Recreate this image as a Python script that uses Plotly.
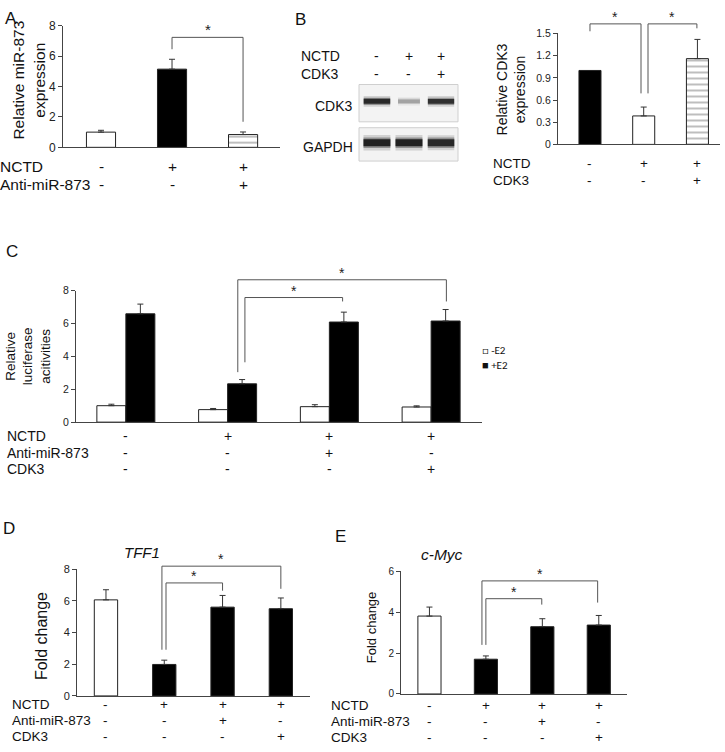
import plotly.graph_objects as go

W, H = 725, 752
FONT = "Liberation Sans, Arial, sans-serif"

# ---------------- data ----------------
A_vals = [1.0, 5.14, 0.84]
A_err = [0.12, 0.65, 0.17]
A_fill = ["white", "black", "dash"]
A_rows = {"NCTD": ["-", "+", "+"], "Anti-miR-873": ["-", "-", "+"]}
A_sig = [(1.0, 2.0, 6.45, 7.23, 1.68)]

B_cdk3_band = [0.95, 0.35, 0.92]
B_gapdh_band = [1.0, 1.0, 0.95]
B_vals = [1.0, 0.385, 1.16]
B_err = [0.0, 0.12, 0.26]
B_fill = ["black", "white", "dash"]
B_rows = {"NCTD": ["-", "+", "+"], "CDK3": ["-", "-", "+"]}
B_sig = [(0.0, 0.95, 1.53, 1.63, 0.69), (1.08, 1.99, 0.69, 1.63, 1.57)]

C_minus = [1.0, 0.76, 0.94, 0.92]
C_minus_err = [0.09, 0.07, 0.12, 0.07]
C_plus = [6.59, 2.33, 6.09, 6.15]
C_plus_err = [0.59, 0.26, 0.60, 0.70]
C_rows = {"NCTD": ["-", "+", "+", "+"],
          "Anti-miR-873": ["-", "-", "+", "-"],
          "CDK3": ["-", "-", "-", "+"]}
C_sig = [(1.17, 2.13, 3.64, 7.58, 7.34), (1.10, 3.15, 3.04, 8.66, 7.34)]

D_vals = [6.07, 1.99, 5.61, 5.51]
D_err = [0.64, 0.27, 0.74, 0.68]
D_fill = ["white", "black", "black", "black"]
D_sig = [(1.03, 2.0, 2.92, 7.14, 6.65), (0.96, 3.0, 2.92, 8.2, 6.77)]

E_vals = [3.81, 1.70, 3.29, 3.37]
E_err = [0.44, 0.16, 0.39, 0.47]
E_fill = ["white", "black", "black", "black"]
E_sig = [(1.0, 1.99, 2.4, 4.66, 4.37), (0.93, 2.98, 2.4, 5.53, 4.47)]

DE_rows = C_rows


def fx(px):
    return px / W


def fy(py):
    return 1 - py / H


fig = go.Figure()
layout = {}
annotations = []
shapes = []
axis_counter = [0]

AX_COL = "#444444"


def new_axes():
    axis_counter[0] += 1
    n = axis_counter[0]
    return ("x" if n == 1 else f"x{n}"), ("y" if n == 1 else f"y{n}")


def lk(ref):
    return ref.replace("x", "xaxis").replace("y", "yaxis")


def panel(xpx, ypx, xrange, ymax, dtick, tickfont, tickformat=None):
    """Create main bar axes and a bracket overlay axis sharing the same scale."""
    xr, yr = new_axes()
    layout[lk(xr)] = dict(domain=[fx(xpx[0]), fx(xpx[1])], range=xrange, anchor=yr,
                          showline=True, linecolor=AX_COL, linewidth=1, ticks="",
                          showticklabels=False, showgrid=False, zeroline=False,
                          fixedrange=True)
    layout[lk(yr)] = dict(domain=[fy(ypx[1]), fy(ypx[0])], range=[0, ymax], anchor=xr,
                          showline=True, linecolor=AX_COL, linewidth=1, ticks="outside",
                          ticklen=4, tickcolor=AX_COL, dtick=dtick, tick0=0,
                          tickfont=dict(size=tickfont, color="#222", family=FONT),
                          showgrid=False, zeroline=False, fixedrange=True,
                          tickformat=tickformat)
    # bracket axis: extend domain upward, same px-per-unit
    _, yb = new_axes()
    top2 = max(ypx[0] - 40, 0)
    ext = ymax * (ypx[1] - top2) / (ypx[1] - ypx[0])
    layout[lk(yb)] = dict(domain=[fy(ypx[1]), fy(top2)], range=[0, ext], anchor=xr,
                          visible=False, fixedrange=True)
    return xr, yr, yb


def bar_style(fill):
    if fill == "dash":
        return dict(color="white", line=dict(color="#222", width=1),
                    pattern=dict(shape="-", fgcolor="#222", bgcolor="white", size=6,
                                 solidity=0.2))
    return dict(color=fill, line=dict(color="#222", width=1))


def add_bars(xr, yr, vals, errs, fills, width):
    for i, (v, e, f) in enumerate(zip(vals, errs, fills)):
        fig.add_trace(go.Bar(x=[i], y=[v], width=width, xaxis=xr, yaxis=yr,
                             marker=bar_style(f), showlegend=False,
                             error_y=dict(type="data", array=[e], arrayminus=[0],
                                          symmetric=False, color="#333", thickness=1,
                                          width=3, visible=e > 0)))


def add_sig(xr, yb, sigs, starsize=14):
    for (x1, x2, yl, yt, yrr) in sigs:
        fig.add_trace(go.Scatter(x=[x1, x1, x2, x2], y=[yl, yt, yt, yrr], mode="lines",
                                 line=dict(color="#555", width=1), xaxis=xr, yaxis=yb,
                                 showlegend=False, hoverinfo="skip"))
        annotations.append(dict(x=(x1 + x2) / 2, y=yt, xref=xr, yref=yb, text="*",
                                showarrow=False, yanchor="bottom", yshift=-3,
                                font=dict(size=starsize, color="#222", family=FONT)))


def add_rows(xr, rows, label_x, row_y, size):
    for (name, syms), py in zip(rows.items(), row_y):
        annotations.append(dict(x=fx(label_x), y=fy(py), xref="paper", yref="paper",
                                text=name, showarrow=False, xanchor="left",
                                yanchor="middle", borderpad=0,
                                font=dict(size=size, color="#111", family=FONT)))
        for i, s in enumerate(syms):
            annotations.append(dict(x=i, y=fy(py), xref=xr, yref="paper", text=s,
                                    showarrow=False, xanchor="center", yanchor="middle",
                                    borderpad=0,
                                    font=dict(size=size, color="#111", family=FONT)))


def text(px, py, t, size, angle=0, italic=False, anchor="center"):
    s = f"<i>{t}</i>" if italic else t
    annotations.append(dict(x=fx(px), y=fy(py), xref="paper", yref="paper", text=s,
                            showarrow=False, textangle=angle, xanchor=anchor,
                            yanchor="middle",
                            font=dict(size=size, color="#111", family=FONT)))


# ---------------- Panel A ----------------
xa, ya, yab = panel((63, 280), (19, 143), [-0.535, 2.52], 8, 2, 12)
add_bars(xa, ya, A_vals, A_err, A_fill, 0.41)
add_sig(xa, yab, A_sig, 15)
add_rows(xa, A_rows, -1, (163, 181), 15.5)
text(29, 75, "Relative miR-873<br>expression", 15.5, angle=-90)
text(11, 12, "A", 17)

# ---------------- Panel B blot ----------------
blot_lanes = [0, 1, 2]
for (band, ytop, ybot, thick) in [(B_cdk3_band, 79, 117, 5), (B_gapdh_band, 123, 157, 7)]:
    xr, yr = new_axes()
    layout[lk(xr)] = dict(domain=[fx(359), fx(458)], range=[-0.56, 2.53], anchor=yr,
                          visible=False, fixedrange=True)
    layout[lk(yr)] = dict(domain=[fy(ybot), fy(ytop)], range=[0, 1], anchor=xr,
                          visible=False, fixedrange=True)
    shapes.append(dict(type="rect", xref=f"{xr} domain", yref=f"{yr} domain",
                       x0=0, x1=1, y0=0, y1=1, line=dict(color="#cfcfcf", width=1),
                       fillcolor="#f3f3f3", layer="below"))
    for lane, inten in zip(blot_lanes, band):
        half = 0.30 + 0.12 * inten
        for w_mult, alpha in [(2.2, 0.15), (1.5, 0.35), (1.0, 0.9)]:
            g = int(235 - 215 * inten)
            fig.add_trace(go.Scatter(x=[lane - half, lane + half], y=[0.55, 0.55],
                                     mode="lines", xaxis=xr, yaxis=yr,
                                     line=dict(color=f"rgba({g},{g},{g},{alpha})",
                                               width=thick * w_mult * (0.6 + 0.4 * inten)),
                                     showlegend=False, hoverinfo="skip"))
    blot_x = xr

add_rows(blot_x, B_rows, 300, (50, 68), 14)
text(355, 101, "CDK3", 14, anchor="right")
text(355, 143, "GAPDH", 14, anchor="right")
text(300, 13, "B", 17)

# ---------------- Panel B chart ----------------
xb, yb_, ybb = panel((558, 720), (27, 140), [-0.595, 2.42], 1.5, 0.3, 10.5, ".1f")
layout[lk(yb_)]["tickvals"] = [0, 0.3, 0.6, 0.9, 1.2, 1.5]
layout[lk(yb_)]["ticktext"] = ["0", "0.3", "0.6", "0.9", "1.2", "1.5"]
add_bars(xb, yb_, B_vals, B_err, B_fill, 0.41)
add_sig(xb, ybb, B_sig, 14)
add_rows(xb, B_rows, 492, (159, 177), 13.5)
text(511, 84, "Relative CDK3<br>expression", 14, angle=-90)

# ---------------- Panel C ----------------
xc, yc, ycb = panel((76, 482), (289, 423), [-0.49, 3.5], 8, 2, 10.5)
xs = list(range(len(C_minus)))
fig.add_trace(go.Bar(x=xs, y=C_minus, width=0.285, offset=-0.285, xaxis=xc, yaxis=yc,
                     name="-E2", marker=dict(color="white", line=dict(color="#222", width=1)),
                     error_y=dict(type="data", array=C_minus_err, arrayminus=[0] * 4,
                                  symmetric=False, color="#333", thickness=1, width=3),
                     showlegend=False))
fig.add_trace(go.Bar(x=xs, y=C_plus, width=0.285, offset=0, xaxis=xc, yaxis=yc,
                     name="+E2", marker=dict(color="black", line=dict(color="#222", width=1)),
                     error_y=dict(type="data", array=C_plus_err, arrayminus=[0] * 4,
                                  symmetric=False, color="#333", thickness=1, width=3),
                     showlegend=False))
add_sig(xc, ycb, C_sig, 14)
add_rows(xc, C_rows, 6, (437, 454, 471), 14)
text(28, 356, "Relative<br>luciferase<br>acitivities", 13.5, angle=-90)
text(12, 249, "C", 17)
annotations.append(dict(x=fx(480), y=fy(350), xref="paper", yref="paper",
                        text="\u25a1 -E2", showarrow=False, xanchor="left", yanchor="middle",
                        font=dict(size=11, color="#111", family="Carlito, Calibri, " + FONT)))
annotations.append(dict(x=fx(480), y=fy(365), xref="paper", yref="paper",
                        text="\u25a0 +E2", showarrow=False, xanchor="left", yanchor="middle",
                        font=dict(size=11, color="#111", family="Carlito, Calibri, " + FONT)))

# ---------------- Panel D ----------------
xd, yd, ydb = panel((77, 310), (573, 702), [-0.497, 3.5], 8, 2, 11)
add_bars(xd, yd, D_vals, D_err, D_fill, 0.40)
add_sig(xd, ydb, D_sig, 14)
add_rows(xd, DE_rows, 11, (711, 727, 743), 13.5)
text(41, 641, "Fold change", 16, angle=-90)
text(142, 556, "TFF1", 15, italic=True)
text(9, 531, "D", 17)

# ---------------- Panel E ----------------
xe, ye, yeb = panel((401, 627), (575, 700), [-0.504, 3.5], 6, 2, 10)
add_bars(xe, ye, E_vals, E_err, E_fill, 0.41)
add_sig(xe, yeb, E_sig, 14)
add_rows(xe, DE_rows, 330, (712, 728, 744), 13.5)
text(371, 632, "Fold change", 13, angle=-90)
text(442, 558, "c-Myc", 15.5, italic=True)
text(340, 540, "E", 17)

fig.update_layout(width=W, height=H, margin=dict(l=0, r=0, t=0, b=0),
                  paper_bgcolor="white", plot_bgcolor="rgba(0,0,0,0)",
                  barmode="overlay", showlegend=False,
                  annotations=annotations, shapes=shapes, **layout)
fig.write_html("out.html", config={"displayModeBar": False},
               post_script="document.body.style.margin='0';"
                           "document.body.style.overflow='hidden';")
